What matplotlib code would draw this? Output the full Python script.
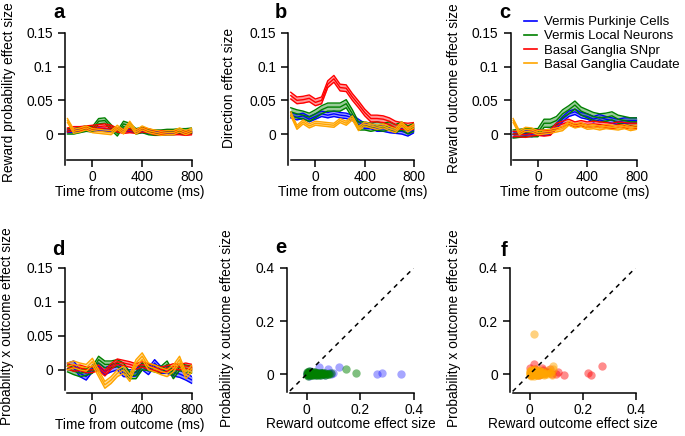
import numpy as np
import matplotlib
matplotlib.use('Agg')
import matplotlib.pyplot as plt

plt.rcParams['font.family'] = ['Liberation Sans', 'DejaVu Sans']
FS = 9.9
plt.rcParams['font.size'] = FS

W, H = 685, 436

# time axis (ms)
time_ms = [-200, -150, -100, -50, 0, 50, 100, 150, 200, 250, 300,
           350, 400, 450, 500, 550, 600, 650, 700, 750, 800]

groups = ['Vermis Purkinje Cells', 'Vermis Local Neurons',
          'Basal Ganglia SNpr', 'Basal Ganglia Caudate']
colors = ['#0000ff', '#008000', '#ff0000', '#ffa500']

# a: reward probability effect size
a_blue = [.004, .005, .006, .006, .006, .007, .006, .006, .005, .006, .005,
          .004, .004, .003, .002, .002, .002, .002, .002, .003, .003]
a_green = [.004, .004, .006, .008, .007, .019, .020, .010, .001, .015, .012,
           .004, .006, .003, .002, .002, .003, .003, .004, .004, .005]
a_red = [.006, .008, .008, .009, .010, .011, .012, .010, .006, .004, .005,
         .004, .006, .005, .002, .002, .002, .002, .002, .001, .002]
a_orange = [.020, .004, .006, .009, .005, .004, .003, .002, .010, .003, .016,
            .003, .009, .005, .003, .001, .002, .002, .006, .002, .006]
a_sem = [.002, .004, .003, .003]

# b: direction effect size
b_blue = [.028, .025, .027, .022, .026, .030, .028, .030, .028, .027, .024,
          .018, .012, .012, .008, .008, .006, .005, .004, .001, .006]
b_green = [.033, .030, .028, .025, .030, .036, .040, .040, .040, .045, .030,
           .012, .012, .010, .012, .010, .012, .008, .012, .006, .010]
b_red = [.057, .050, .051, .053, .047, .050, .074, .082, .069, .068, .055,
         .044, .032, .023, .023, .022, .019, .014, .012, .011, .012]
b_orange = [.030, .010, .018, .012, .016, .015, .014, .013, .020, .016, .024,
            .008, .015, .012, .010, .012, .008, .005, .015, .006, .012]
b_sem = [.004, .006, .005, .003]

# c: reward outcome effect size
c_blue = [-.001, .000, .001, .000, .002, .002, .003, .012, .022, .030, .033,
          .028, .026, .022, .025, .022, .020, .018, .020, .020, .020]
c_green = [.000, .001, .002, .002, .002, .016, .016, .020, .030, .036, .043,
           .034, .030, .026, .024, .025, .027, .022, .020, .018, .018]
c_red = [.000, .000, -.001, .001, .002, .001, .002, .012, .015, .018, .014,
         .016, .014, .015, .014, .013, .012, .014, .013, .012, .012]
c_orange = [.020, .002, .007, .006, .002, .003, .004, .006, .008, .016, .012,
            .014, .010, .011, .009, .011, .010, .009, .011, .008, .010]
c_sem = [.004, .006, .004, .003]

# d: probability x outcome effect size
d_blue = [.005, .008, -.005, -.010, .002, .005, -.002, .002, .005, -.005, -.005,
          -.004, .005, -.002, .010, .000, .000, -.004, -.006, -.010, -.015]
d_green = [.002, -.002, -.005, -.003, .000, .015, .008, .008, .010, .005, -.008,
           -.008, .005, .004, .002, .000, .008, -.008, .004, .002, .000]
d_red = [.005, .002, .003, .000, .000, .003, -.005, .005, .012, .010, .008,
         .005, .008, .005, .003, .000, .002, .005, .004, .006, .004]
d_orange = [.005, .008, .005, .003, .012, -.005, -.022, -.015, -.005, .000, -.012,
            .010, .020, .005, .002, -.002, -.005, .002, .015, -.008, .002]
d_sem = [.005, .005, .004, .005]

# e: cerebellar neurons, outcome vs probability x outcome
e_blue_x = [.350, .280, .262, .122, .100, .078, .046, .090, .065, .000, .005,
            .010, .015, .020, .025, .030, .035, .040, .050, .055, .060, .070,
            .003, .012, .008, .018, .028, .045, .085]
e_blue_y = [.002, .006, .001, .028, .006, .020, .027, .000, .005, .000, .010,
            -.004, .005, .000, .008, -.003, .004, .000, -.002, .006, .000, -.003,
            .004, .012, -.006, .002, .000, .005, .004]
e_green_x = [.148, .185, .000, .002, .004, .006, .008, .010, .012, .014, .016,
             .018, .020, .022, .025, .028, .030, .033, .036, .040, .043, .046,
             .050, .054, .058, .062, .066, .070, .075, .080, .005, .015, .024,
             .035, .045, .055, .068, .085, .092, .010, .020, .032, .042, .052,
             .001, .007, .013, .027, .038, .060]
e_green_y = [.022, .005, .002, -.002, .006, .000, .004, -.003, .008, .002, -.001,
             .005, .001, .006, -.002, .003, .000, .004, -.001, .002, .005, .000,
             .003, -.002, .004, .001, .002, -.001, .003, .000, .009, .009, .007,
             .006, -.003, .004, .005, .002, .004, .011, -.004, .008, .007, .006,
             .010, -.005, .003, .009, -.003, .006]

# f: basal ganglia neurons
f_red_x = [.272, .222, .232, .128, .108, .085, .015, .000, .045, .060, .030,
           .020, .010, .005, .040, .055, .070, .025, .035, .050, .100, .075]
f_red_y = [.030, .007, -.002, -.003, .010, .000, .040, .025, .025, .010, .010,
           .020, .005, -.003, .000, .005, .008, .012, -.002, .015, .003, .020]
f_orange_x = [.015, .088, .090, .085, .070, .000, .002, .004, .006, .008, .010,
              .012, .014, .016, .018, .020, .022, .025, .028, .030, .033, .036,
              .040, .045, .050, .055, .060, .065, .003, .009, .019, .027, .038,
              .075, .080, .001, .005, .011, .017, .023, .031, .043, .007, .013,
              .021, .026, .034, .048, .058, .002, .009, .015, .024, .036, .052]
f_orange_y = [.150, .030, .022, -.002, .015, .002, -.003, .006, .000, .004, -.002,
              .008, .002, .010, .000, .005, .012, .003, -.001, .007, .002, .004,
              .000, .006, .003, -.002, .005, .001, .010, .015, .020, .008, .012,
              .004, .009, .012, .018, .001, .014, -.003, .010, .002, -.006, .016,
              .007, -.004, .015, .008, .000, .005, .009, -.005, .011, -.002, .010]


def add_panel(fig, left, right, top, bottom):
    return fig.add_axes([left / W, 1 - bottom / H, (right - left) / W, (bottom - top) / H])


def style_axes(ax):
    for side in ('top', 'right'):
        ax.spines[side].set_visible(False)
    for side in ('left', 'bottom'):
        ax.spines[side].set_linewidth(1.1)
    ax.tick_params(direction='out', length=4.8, width=1.1, labelsize=FS)
    ax.tick_params(axis='x', pad=2.5)
    ax.tick_params(axis='y', pad=4.0)


def band(ax, mean, sem, color):
    mean = np.asarray(mean)
    lo, hi = mean - sem, mean + sem
    ax.fill_between(time_ms, lo, hi, color=color, alpha=0.4, lw=0)
    for v in (lo, mean, hi):
        ax.plot(time_ms, v, color=color, lw=1.0)


def time_panel(ax, series, sems, ylabel, ylab_xy):
    for s, sem, c in zip(series, sems, colors):
        band(ax, s, sem, c)
    ax.set_xlim(-220, 800)
    ax.set_ylim(-0.046, 0.15)
    ax.set_xticks([0, 400, 800])
    ax.set_yticks([0, 0.05, 0.1, 0.15])
    ax.set_yticklabels(['0', '0.05', '0.1', '0.15'])
    style_axes(ax)
    ax.spines['bottom'].set_bounds(-200, 800)
    ax.set_xlabel('Time from outcome (ms)')
    ax.set_ylabel(ylabel)
    ax.xaxis.set_label_coords(0.51, -0.15)
    ax.yaxis.set_label_coords(*ylab_xy)


def scatter_panel(ax, pts, pcolors, alphas, ylab_x, xlo):
    for (x, y), c, al in zip(pts, pcolors, alphas):
        ax.scatter(x, y, s=36, color=c, alpha=al, lw=0, zorder=3)
    ax.plot([xlo, 0.4], [xlo, 0.4], color='k', lw=1.1, ls=(0, (3, 3)), zorder=4)
    ax.set_xlim(-0.074, 0.4)
    ax.set_ylim(-0.071, 0.4)
    ax.set_xticks([0, 0.2, 0.4])
    ax.set_xticklabels(['0', '0.2', '0.4'])
    ax.set_yticks([0, 0.2, 0.4])
    ax.set_yticklabels(['0', '0.2', '0.4'])
    style_axes(ax)
    ax.spines['bottom'].set_bounds(xlo, 0.4)
    ax.spines['left'].set_bounds(-0.065, 0.4)
    ax.set_xlabel('Reward outcome effect size')
    ax.set_ylabel('Probability x outcome effect size')
    ax.xaxis.set_label_coords(0.5, -0.192)
    ax.yaxis.set_label_coords(ylab_x, 0.52)


fig = plt.figure(figsize=(W / 100, H / 100), dpi=100)

ax_a = add_panel(fig, 65, 192, 33, 165)
time_panel(ax_a, [a_blue, a_green, a_red, a_orange], a_sem,
           'Reward probability effect size', (-0.386, 0.553))
ax_b = add_panel(fig, 288.3, 414, 33, 165)
time_panel(ax_b, [b_blue, b_green, b_red, b_orange], b_sem,
           'Direction effect size', (-0.416, 0.583))
ax_c = add_panel(fig, 510.7, 636.7, 33, 165)
time_panel(ax_c, [c_blue, c_green, c_red, c_orange], c_sem,
           'Reward outcome effect size', (-0.394, 0.583))
for ax in (ax_a, ax_b, ax_c):
    ax.spines['bottom'].set_position(('data', -0.0386))

ax_d = add_panel(fig, 65, 192, 267.7, 393)
time_panel(ax_d, [d_blue, d_green, d_red, d_orange], d_sem,
           'Probability x outcome effect size', (-0.40, 0.53))
ax_d.set_ylim(-0.034, 0.15)
ax_d.spines['left'].set_bounds(-0.029, 0.15)
ax_d.xaxis.set_label_coords(0.51, -0.2)

ax_e = add_panel(fig, 286.7, 414, 267.7, 393.3)
scatter_panel(ax_e, [(e_blue_x, e_blue_y), (e_green_x, e_green_y)],
              [colors[0], colors[1]], [0.35, 0.5], -0.414, -0.062)
ax_f = add_panel(fig, 510, 635.7, 267.7, 393.3)
scatter_panel(ax_f, [(f_red_x, f_red_y), (f_orange_x, f_orange_y)],
              [colors[2], colors[3]], [0.45, 0.5], -0.39, -0.064)

# panel letters
for letter, x, y in [('a', 53, 18), ('b', 275, 18), ('c', 499, 18),
                     ('d', 52, 255), ('e', 275, 253), ('f', 500.7, 255.7)]:
    fig.text(x / W, 1 - y / H, letter, fontsize=14.5, fontweight='bold',
             ha='left', va='baseline')

handles = [plt.Line2D([], [], color=c, lw=1.2) for c in colors]
fig.legend(handles, groups, loc='upper left', bbox_to_anchor=(524 / W, 1 - 16 / H),
           frameon=False, borderpad=0, borderaxespad=0, handlelength=1.0,
           handletextpad=0.5, labelspacing=0.15, fontsize=9.5)

fig.savefig('out.png', dpi=100)
